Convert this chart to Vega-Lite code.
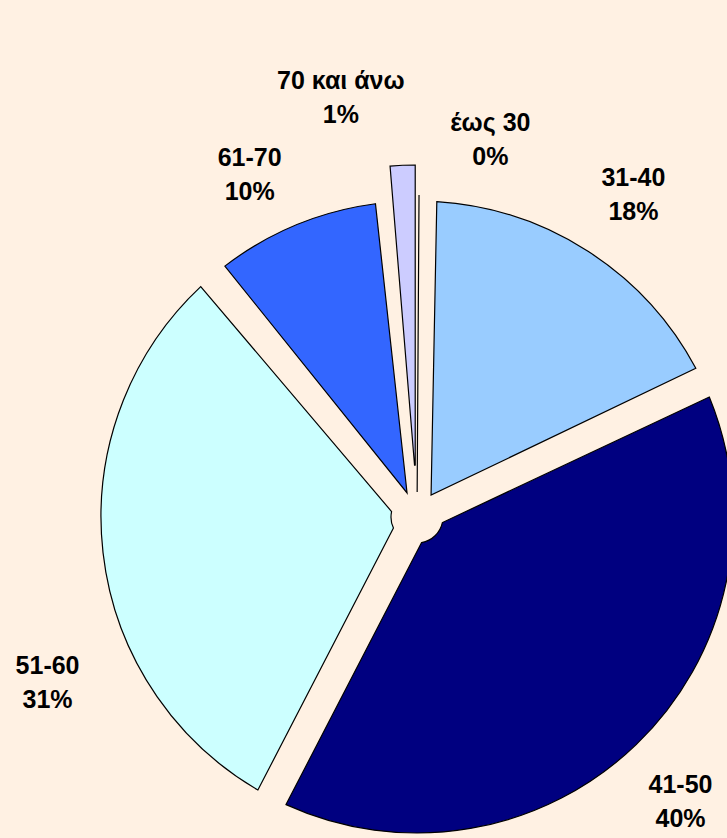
{
  "$schema": "https://vega.github.io/schema/vega-lite/v6.json",
  "width": 620,
  "height": 642,
  "autosize": "none",
  "padding": {"left": 107, "top": 196, "right": 0, "bottom": 0},
  "background": "#FFF1E3",
  "config": {"view": {"stroke": null}, "text": {"font": "Liberation Sans", "fontWeight": "bold", "fontSize": 25, "fill": "#000000"}},
  "data": {"values": [
    {"age": "έως 30", "share": 0.002, "rank": 1},
    {"age": "31-40", "share": 0.178, "rank": 2},
    {"age": "41-50", "share": 0.396, "rank": 3},
    {"age": "51-60", "share": 0.312, "rank": 4},
    {"age": "61-70", "share": 0.099, "rank": 5},
    {"age": "70 και άνω", "share": 0.013, "rank": 6}
  ]},
  "encoding": {
    "theta": {"field": "share", "type": "quantitative", "stack": true},
    "order": {"field": "rank", "type": "quantitative"}
  },
  "layer": [
    {
      "mark": {"type": "arc", "outerRadius": 316, "innerRadius": 26, "padAngle": 0.1, "stroke": "#000000", "strokeWidth": 1.2},
      "encoding": {
        "color": {"field": "age", "type": "nominal", "legend": null,
          "scale": {"domain": ["έως 30", "31-40", "41-50", "51-60", "61-70", "70 και άνω"],
                    "range": ["#993366", "#99CCFF", "#000080", "#CCFFFF", "#3366FF", "#CCCCFF"]}},
        "opacity": {"condition": {"test": "datum.rank >= 2 && datum.rank <= 5", "value": 1}, "value": 0}
      }
    },
    {
      "mark": {"type": "arc", "outerRadius": 352, "innerRadius": 52, "padAngle": 0.01, "stroke": "#000000", "strokeWidth": 1.2},
      "encoding": {
        "color": {"field": "age", "type": "nominal", "legend": null},
        "opacity": {"condition": {"test": "datum.rank == 6", "value": 1}, "value": 0}
      }
    },
    {
      "mark": {"type": "arc", "outerRadius": 322, "innerRadius": 25, "padAngle": 0.02, "stroke": "#000000", "strokeWidth": 1.2},
      "encoding": {
        "color": {"field": "age", "type": "nominal", "legend": null},
        "opacity": {"condition": {"test": "datum.rank == 1", "value": 1}, "value": 0}
      }
    },
    {
      "mark": {"type": "text", "radius": 388, "thetaOffset": 0.02, "dy": -17, "align": "center", "baseline": "middle"},
      "encoding": {
        "detail": {"field": "age", "type": "nominal"},
        "text": {"field": "age", "type": "nominal"},
        "opacity": {"condition": {"test": "datum.rank == 2 || datum.rank == 3", "value": 1}, "value": 0}
      }
    },
    {
      "mark": {"type": "text", "radius": 388, "thetaOffset": 0.02, "dy": 17, "align": "center", "baseline": "middle"},
      "encoding": {
        "detail": {"field": "age", "type": "nominal"},
        "text": {"field": "share", "type": "quantitative", "format": ".0%"},
        "opacity": {"condition": {"test": "datum.rank == 2 || datum.rank == 3", "value": 1}, "value": 0}
      }
    },
    {
      "mark": {"type": "text", "radius": 381, "thetaOffset": -0.062, "dy": -17, "align": "center", "baseline": "middle"},
      "encoding": {
        "detail": {"field": "age", "type": "nominal"},
        "text": {"field": "age", "type": "nominal"},
        "opacity": {"condition": {"test": "datum.rank == 5", "value": 1}, "value": 0}
      }
    },
    {
      "mark": {"type": "text", "radius": 381, "thetaOffset": -0.062, "dy": 17, "align": "center", "baseline": "middle"},
      "encoding": {
        "detail": {"field": "age", "type": "nominal"},
        "text": {"field": "share", "type": "quantitative", "format": ".0%"},
        "opacity": {"condition": {"test": "datum.rank == 5", "value": 1}, "value": 0}
      }
    },
    {
      "mark": {"type": "text", "radius": 405, "thetaOffset": -0.309, "dy": -17, "align": "center", "baseline": "middle"},
      "encoding": {
        "detail": {"field": "age", "type": "nominal"},
        "text": {"field": "age", "type": "nominal"},
        "opacity": {"condition": {"test": "datum.rank == 4", "value": 1}, "value": 0}
      }
    },
    {
      "mark": {"type": "text", "radius": 405, "thetaOffset": -0.309, "dy": 17, "align": "center", "baseline": "middle"},
      "encoding": {
        "detail": {"field": "age", "type": "nominal"},
        "text": {"field": "share", "type": "quantitative", "format": ".0%"},
        "opacity": {"condition": {"test": "datum.rank == 4", "value": 1}, "value": 0}
      }
    },
    {
      "mark": {"type": "text", "radius": 426, "thetaOffset": -0.139, "dy": -17, "align": "center", "baseline": "middle"},
      "encoding": {
        "detail": {"field": "age", "type": "nominal"},
        "text": {"field": "age", "type": "nominal"},
        "opacity": {"condition": {"test": "datum.rank == 6", "value": 1}, "value": 0}
      }
    },
    {
      "mark": {"type": "text", "radius": 426, "thetaOffset": -0.139, "dy": 17, "align": "center", "baseline": "middle"},
      "encoding": {
        "detail": {"field": "age", "type": "nominal"},
        "text": {"field": "share", "type": "quantitative", "format": ".0%"},
        "opacity": {"condition": {"test": "datum.rank == 6", "value": 1}, "value": 0}
      }
    },
    {
      "mark": {"type": "text", "radius": 384, "thetaOffset": 0.186, "dy": -17, "align": "center", "baseline": "middle"},
      "encoding": {
        "detail": {"field": "age", "type": "nominal"},
        "text": {"field": "age", "type": "nominal"},
        "opacity": {"condition": {"test": "datum.rank == 1", "value": 1}, "value": 0}
      }
    },
    {
      "mark": {"type": "text", "radius": 384, "thetaOffset": 0.186, "dy": 17, "align": "center", "baseline": "middle"},
      "encoding": {
        "detail": {"field": "age", "type": "nominal"},
        "text": {"field": "share", "type": "quantitative", "format": ".0%"},
        "opacity": {"condition": {"test": "datum.rank == 1", "value": 1}, "value": 0}
      }
    }
  ]
}
